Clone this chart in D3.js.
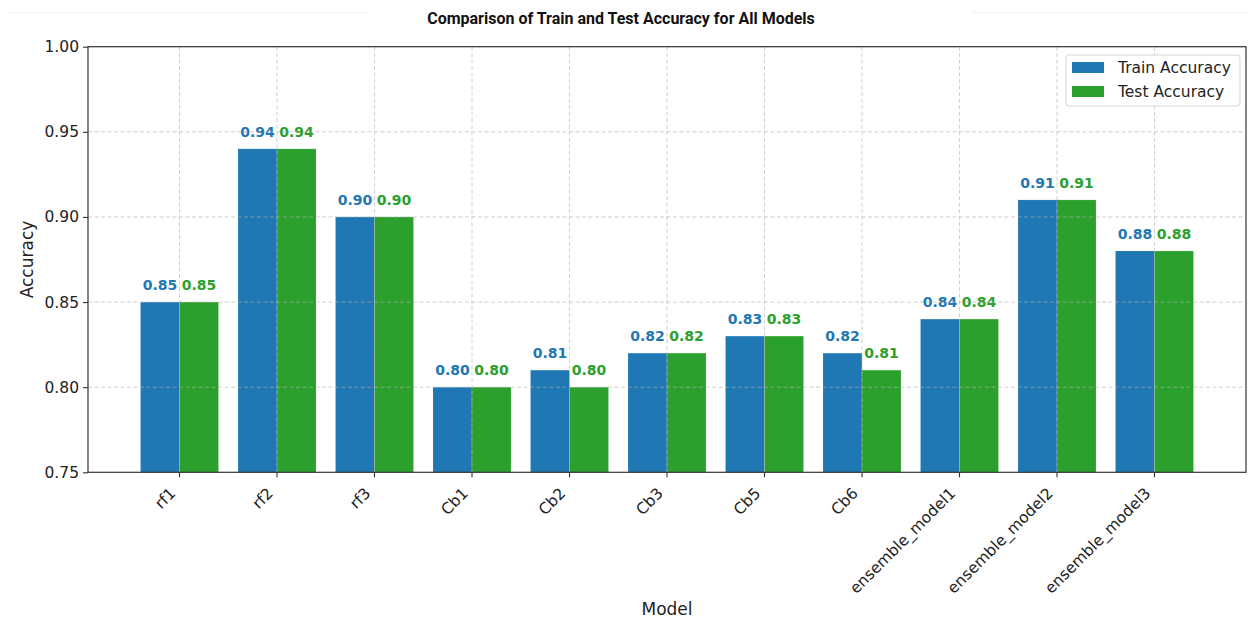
<!DOCTYPE html>
<html>
<head>
<meta charset="utf-8">
<script src="https://cdn.jsdelivr.net/npm/d3@7"></script>
<style>
  html, body { margin: 0; padding: 0; background: #fff; }
  svg { display: block; }
</style>
</head>
<body>
<svg id="chart" width="1248" height="619"></svg>
<script>
// Model names along the x axis
const models = ["rf1", "rf2", "rf3", "Cb1", "Cb2", "Cb3", "Cb5", "Cb6",
                "ensemble_model1", "ensemble_model2", "ensemble_model3"];
// Accuracy per model
const trainAccuracy = [0.85, 0.94, 0.90, 0.80, 0.81, 0.82, 0.83, 0.82, 0.84, 0.91, 0.88];
const testAccuracy  = [0.85, 0.94, 0.90, 0.80, 0.80, 0.82, 0.83, 0.81, 0.84, 0.91, 0.88];
// Y axis ticks
const yTicks = [0.75, 0.80, 0.85, 0.90, 0.95, 1.00];

const seriesKeys = ["train", "test"];
const seriesNames = { train: "Train Accuracy", test: "Test Accuracy" };
const colors = { train: "#1f77b4", test: "#2ca02c" };

const svg = d3.select("#chart");
const plot = { left: 88, right: 1246, top: 46.7, bottom: 472.3 };
const tickFont = "'DejaVu Sans', sans-serif";

const x0 = d3.scaleBand()
  .domain(models)
  .range([plot.left, plot.right])
  .paddingInner(0.2)
  .paddingOuter(0.5385);
const x1 = d3.scaleBand()
  .domain(seriesKeys)
  .range([0, x0.bandwidth()]);
const y = d3.scaleLinear()
  .domain([0.75, 1.00])
  .range([plot.bottom, plot.top]);

const rows = models.map((m, i) => ({ model: m, train: trainAccuracy[i], test: testAccuracy[i] }));

// faint frame lines along the top of the page
svg.append("line").attr("x1", 10).attr("x2", 368).attr("y1", 12.5).attr("y2", 12.5)
  .attr("stroke", "#f1f1f1").attr("stroke-width", 1);
svg.append("line").attr("x1", 972).attr("x2", 1248).attr("y1", 12.5).attr("y2", 12.5)
  .attr("stroke", "#f1f1f1").attr("stroke-width", 1);

// title
svg.append("text")
  .attr("x", 621).attr("y", 24)
  .attr("text-anchor", "middle")
  .style("font-family", "Roboto, 'Open Sans', sans-serif")
  .style("font-weight", "700")
  .style("font-size", "16px")
  .style("fill", "#111")
  .text("Comparison of Train and Test Accuracy for All Models");

// bars
const groups = svg.append("g").selectAll("g")
  .data(rows)
  .join("g")
  .attr("transform", d => `translate(${x0(d.model)},0)`);

groups.selectAll("rect")
  .data(d => seriesKeys.map(k => ({ key: k, value: d[k] })))
  .join("rect")
  .attr("x", d => x1(d.key))
  .attr("width", x1.bandwidth())
  .attr("y", d => y(d.value))
  .attr("height", d => y(0.75) - y(d.value))
  .attr("fill", d => colors[d.key])
  .attr("stroke", "#ffffff")
  .attr("stroke-opacity", 0.15)
  .attr("stroke-width", 0.8);

// grid over the bars
const grid = svg.append("g")
  .attr("stroke", "#b0b0b0")
  .attr("stroke-opacity", 0.6)
  .attr("stroke-width", 1)
  .attr("stroke-dasharray", "4,2.5");
grid.selectAll("line.h")
  .data(yTicks.slice(1))
  .join("line")
  .attr("class", "h")
  .attr("x1", plot.left).attr("x2", plot.right)
  .attr("y1", d => y(d)).attr("y2", d => y(d));
grid.selectAll("line.v")
  .data(models)
  .join("line")
  .attr("class", "v")
  .attr("x1", d => x0(d) + x0.bandwidth() / 2)
  .attr("x2", d => x0(d) + x0.bandwidth() / 2)
  .attr("y1", plot.top).attr("y2", plot.bottom);

// value labels above the bars
groups.selectAll("text")
  .data(d => seriesKeys.map(k => ({ key: k, value: d[k] })))
  .join("text")
  .attr("x", d => x1(d.key) + x1.bandwidth() / 2)
  .attr("y", d => y(d.value) - 12)
  .attr("text-anchor", "middle")
  .style("font-family", tickFont)
  .style("font-weight", "700")
  .style("font-size", "14px")
  .style("fill", d => colors[d.key])
  .text(d => d.value.toFixed(2));

// axes
const yAxis = svg.append("g")
  .attr("transform", `translate(${plot.left},0)`)
  .call(d3.axisLeft(y).tickValues(yTicks).tickFormat(d3.format(".2f")).tickSize(5).tickPadding(4));
yAxis.select(".domain").remove();
yAxis.selectAll("line").attr("stroke", "#333").attr("stroke-width", 1.1);
yAxis.selectAll("text")
  .style("font-family", tickFont).style("font-size", "15.5px").style("fill", "#222");

const xAxis = svg.append("g")
  .attr("transform", `translate(0,${plot.bottom})`)
  .call(d3.axisBottom(x0).tickSize(5).tickSizeOuter(0));
xAxis.select(".domain").remove();
xAxis.selectAll("line").attr("stroke", "#333").attr("stroke-width", 1.1);
xAxis.selectAll("text")
  .attr("x", 0).attr("y", 0).attr("dy", null)
  .attr("text-anchor", "end")
  .attr("transform", "translate(-3,22) rotate(-45)")
  .style("font-family", tickFont).style("font-size", "15.5px").style("fill", "#222");

// frame
svg.append("rect")
  .attr("x", plot.left).attr("y", plot.top)
  .attr("width", plot.right - plot.left).attr("height", plot.bottom - plot.top)
  .attr("fill", "none").attr("stroke", "#333").attr("stroke-width", 1.2);

// axis titles
svg.append("text")
  .attr("transform", `translate(33,${(plot.top + plot.bottom) / 2}) rotate(-90)`)
  .attr("text-anchor", "middle")
  .style("font-family", tickFont).style("font-size", "17px").style("fill", "#222")
  .text("Accuracy");
svg.append("text")
  .attr("x", (plot.left + plot.right) / 2).attr("y", 615)
  .attr("text-anchor", "middle")
  .style("font-family", tickFont).style("font-size", "17px").style("fill", "#222")
  .text("Model");

// legend
const legend = svg.append("g");
legend.append("rect")
  .attr("x", 1066).attr("y", 55).attr("width", 174).attr("height", 51)
  .attr("rx", 3).attr("ry", 3)
  .attr("fill", "#fff").attr("fill-opacity", 0.85)
  .attr("stroke", "#d6d6d6").attr("stroke-width", 1);
seriesKeys.forEach((k, i) => {
  legend.append("rect")
    .attr("x", 1072).attr("y", 62 + i * 24).attr("width", 32).attr("height", 11)
    .attr("fill", colors[k]);
  legend.append("text")
    .attr("x", 1118).attr("y", 73 + i * 24)
    .style("font-family", tickFont).style("font-size", "15.5px").style("fill", "#222")
    .text(seriesNames[k]);
});
</script>
</body>
</html>
